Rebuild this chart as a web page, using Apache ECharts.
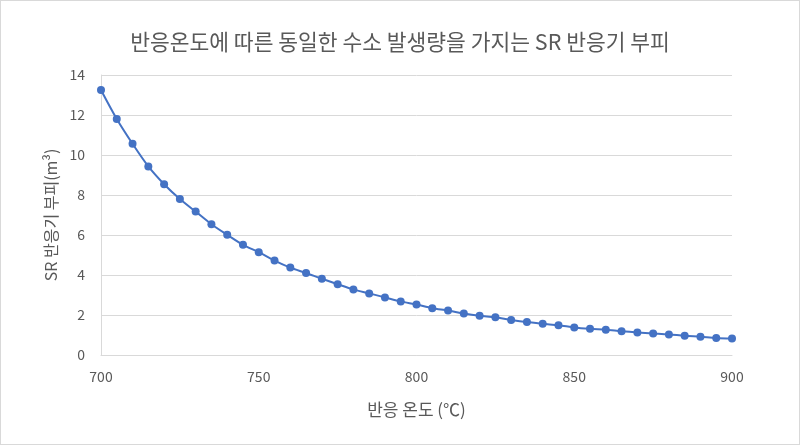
<!DOCTYPE html>
<html>
<head>
<meta charset="utf-8">
<script src="https://cdn.jsdelivr.net/npm/echarts@6/dist/echarts.min.js"></script>
<style>
html, body { margin: 0; padding: 0; background: #fff; }
#chart { width: 800px; height: 445px; box-sizing: border-box; border: 1px solid #d9d9d9; }
</style>
</head>
<body>
<div id="chart"></div>
<script>
var temps = [700, 705, 710, 715, 720, 725, 730, 735, 740, 745,
             750, 755, 760, 765, 770, 775, 780, 785, 790, 795,
             800, 805, 810, 815, 820, 825, 830, 835, 840, 845,
             850, 855, 860, 865, 870, 875, 880, 885, 890, 895, 900];
var volumes = [13.25, 11.8, 10.56, 9.43, 8.54, 7.8, 7.17, 6.54, 6.01, 5.51,
               5.14, 4.72, 4.37, 4.1, 3.81, 3.54, 3.28, 3.08, 2.88, 2.68,
               2.52, 2.34, 2.22, 2.07, 1.96, 1.89, 1.75, 1.65, 1.56, 1.49,
               1.38, 1.31, 1.26, 1.19, 1.13, 1.08, 1.03, 0.96, 0.91, 0.85, 0.82];

var font = '"Noto Sans CJK KR", "Noto Sans", sans-serif';

var seriesData = temps.map(function (t, i) { return [t, volumes[i]]; });

var option = {
    animation: false,
    title: {
        text: '반응온도에 따른 동일한 수소 발생량을 가지는 SR 반응기 부피',
        left: 'center',
        top: 25,
        textStyle: {
            fontFamily: font,
            fontSize: 21.5,
            fontWeight: 'normal',
            color: '#595959'
        }
    },
    grid: {
        left: 100,
        right: 67,
        top: 74,
        bottom: 89
    },
    xAxis: {
        type: 'value',
        min: 700,
        max: 900,
        interval: 50,
        name: '반응 온도 (℃)',
        nameLocation: 'middle',
        nameGap: 46,
        nameTextStyle: { fontFamily: font, fontSize: 17, color: '#595959' },
        axisLine: { show: true, lineStyle: { color: '#d9d9d9', width: 1 } },
        axisTick: { show: false },
        splitLine: { show: false },
        axisLabel: { fontFamily: font, fontSize: 14, color: '#595959', margin: 15 }
    },
    yAxis: {
        type: 'value',
        min: 0,
        max: 14,
        interval: 2,
        name: 'SR 반응기 부피(m³)',
        nameLocation: 'middle',
        nameGap: 42,
        nameTextStyle: { fontFamily: font, fontSize: 16, color: '#595959' },
        axisLine: { show: true, lineStyle: { color: '#d9d9d9', width: 1 } },
        axisTick: { show: false },
        splitLine: { lineStyle: { color: '#d9d9d9', width: 1 } },
        axisLabel: { fontFamily: font, fontSize: 14, color: '#595959', margin: 16 }
    },
    series: [
        {
            type: 'line',
            data: seriesData,
            smooth: 0.3,
            symbol: 'circle',
            symbolSize: 8,
            lineStyle: { color: '#4472c4', width: 2 },
            itemStyle: { color: '#4472c4' }
        }
    ]
};

var myChart = echarts.init(document.getElementById('chart'));
myChart.setOption(option);
</script>
</body>
</html>
